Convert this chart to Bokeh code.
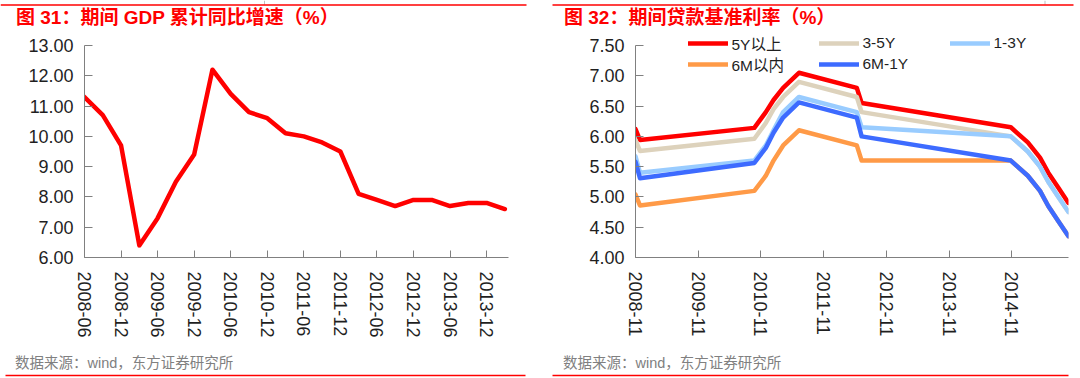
import pandas as pd
from bokeh.plotting import figure
from bokeh.models import (Range1d, FixedTicker, NumeralTickFormatter, DatetimeTickFormatter,
                          Legend, LegendItem, Label)
from bokeh.layouts import row, column
from bokeh.embed import file_html
from bokeh.resources import INLINE

# ---------------- data: chart 31 ----------------
quarters = ["2008-06", "2008-09", "2008-12", "2009-03", "2009-06", "2009-09", "2009-12",
            "2010-03", "2010-06", "2010-09", "2010-12", "2011-03", "2011-06", "2011-09",
            "2011-12", "2012-03", "2012-06", "2012-09", "2012-12", "2013-03", "2013-06",
            "2013-09", "2013-12", "2014-03"]
gdp_yoy = [11.3, 10.7, 9.7, 6.4, 7.3, 8.5, 9.4, 12.2, 11.4, 10.8, 10.6, 10.1, 10.0, 9.8,
           9.5, 8.1, 7.9, 7.7, 7.9, 7.9, 7.7, 7.8, 7.8, 7.6]
gdp_yticks = [6, 7, 8, 9, 10, 11, 12, 13]

# ---------------- data: chart 32 ----------------
rate_dates = ["2008-11-27", "2008-12-23", "2010-10-20", "2010-12-26", "2011-02-09",
              "2011-04-06", "2011-07-07", "2012-06-08", "2012-07-06", "2014-11-22",
              "2015-03-01", "2015-05-11", "2015-06-28", "2015-08-26", "2015-10-24"]
rate_5y_plus = [6.12, 5.94, 6.14, 6.40, 6.60, 6.80, 7.05, 6.80, 6.55, 6.15, 5.90, 5.65, 5.40, 5.15, 4.90]
rate_3_5y = [5.94, 5.76, 5.96, 6.22, 6.45, 6.65, 6.90, 6.65, 6.40, 6.00, 5.75, 5.50, 5.25, 5.00, 4.75]
rate_1_3y = [5.67, 5.40, 5.60, 5.85, 6.10, 6.40, 6.65, 6.40, 6.15, 6.00, 5.75, 5.50, 5.25, 5.00, 4.75]
rate_6m = [5.04, 4.86, 5.10, 5.35, 5.60, 5.85, 6.10, 5.85, 5.60, 5.60, 5.35, 5.10, 4.85, 4.60, 4.35]
rate_6m_1y = [5.58, 5.31, 5.56, 5.81, 6.06, 6.31, 6.56, 6.31, 6.00, 5.60, 5.35, 5.10, 4.85, 4.60, 4.35]
rate_names = ["5Y以上", "3-5Y", "1-3Y", "6M以内", "6M-1Y"]
rate_tick_dates = ["2008-11-27", "2009-11-27", "2010-11-27", "2011-11-27",
                   "2012-11-27", "2013-11-27", "2014-11-27"]
rate_yticks = [4.0, 4.5, 5.0, 5.5, 6.0, 6.5, 7.0, 7.5]

title_31 = "图 31：期间  GDP 累计同比增速（%）"
title_32 = "图 32：期间贷款基准利率（%）"
source_text = "数据来源：wind，东方证券研究所"

FONT = "Liberation Sans, Noto Sans CJK SC"
RED = "#FF0000"
AXIS = "#808080"
LABEL = "#1f1f1f"
GREY = "#808080"

HEAD_H = 30      # header strip height (red rule + title)
FOOT_H = 30      # footer strip height (source + red rule)
MAIN_H = 318     # chart figure height
COL_W = 540


def strip(width, height, rule_x0, rule_x1, rule_y, text, text_x, text_y, size, color, bold,
          mark_x=None):
    s = figure(width=width, height=height, output_backend="svg", toolbar_location=None,
               x_range=Range1d(0, width), y_range=Range1d(height, 0),
               x_axis_location=None, y_axis_location=None,
               min_border_left=0, min_border_right=0, min_border_top=0, min_border_bottom=0)
    s.frame_align = False
    s.outline_line_color = None
    s.grid.visible = False
    s.background_fill_color = "white"
    s.border_fill_color = "white"
    if mark_x is not None:
        s.segment(x0=[mark_x], y0=[0], x1=[mark_x], y1=[4], line_color="#bfbfbf", line_width=1)
    s.segment(x0=[rule_x0], y0=[rule_y], x1=[rule_x1], y1=[rule_y], line_color=RED, line_width=1.6)
    s.add_layout(Label(x=text_x, y=text_y, text=text, text_font=FONT, text_font_size=size,
                       text_font_style="bold" if bold else "normal", text_color=color,
                       text_baseline="middle", text_align="left"))
    return s


def style(p, xtick_in=7, ytick_in=8):
    p.frame_align = False
    p.xgrid.visible = False
    p.ygrid.visible = False
    p.outline_line_color = None
    p.background_fill_color = "white"
    p.border_fill_color = "white"
    for ax in (p.xaxis[0], p.yaxis[0]):
        ax.axis_line_color = AXIS
        ax.axis_line_width = 1
        ax.major_tick_line_color = AXIS
        ax.minor_tick_line_color = None
        ax.major_tick_out = 0
        ax.major_label_text_font = FONT
        ax.major_label_text_font_size = "18px"
        ax.major_label_text_color = LABEL
    p.xaxis[0].major_tick_in = xtick_in
    p.yaxis[0].major_tick_in = ytick_in
    p.xaxis[0].major_label_orientation = "vertical"
    p.xaxis[0].major_label_standoff = 14
    p.yaxis[0].major_label_standoff = 11


# frame: top at page y=30, bottom at page y=257; top tick value sits at page y=45
FRAME_H = 227
TICK_SPAN = 212

# ---------------- figure 31 ----------------
y1_end = gdp_yticks[0] + (gdp_yticks[-1] - gdp_yticks[0]) * FRAME_H / TICK_SPAN
p1 = figure(width=COL_W, height=MAIN_H, output_backend="svg", toolbar_location=None,
            x_range=Range1d(0, 23.2), y_range=Range1d(gdp_yticks[0], y1_end),
            min_border_left=84, min_border_right=32, min_border_top=0, min_border_bottom=91)
style(p1)
xi = list(range(len(quarters)))
p1.line(x=xi, y=gdp_yoy, line_color=RED, line_width=4.5, line_join="round", line_cap="round")
tick_idx = list(range(0, len(quarters), 2))
p1.xaxis[0].ticker = FixedTicker(ticks=tick_idx)
p1.xaxis[0].major_label_overrides = {i: quarters[i] for i in tick_idx}
p1.yaxis[0].ticker = FixedTicker(ticks=gdp_yticks)
p1.yaxis[0].bounds = (gdp_yticks[0], gdp_yticks[-1])
p1.yaxis[0].formatter = NumeralTickFormatter(format="0.00")

# ---------------- figure 32 ----------------
dates = pd.to_datetime(rate_dates)
y2_end = rate_yticks[0] + (rate_yticks[-1] - rate_yticks[0]) * FRAME_H / TICK_SPAN
p2 = figure(width=COL_W, height=MAIN_H, output_backend="svg", toolbar_location=None,
            x_axis_type="datetime",
            x_range=Range1d(pd.Timestamp(rate_dates[0]), pd.Timestamp(rate_dates[-1])),
            y_range=Range1d(rate_yticks[0], y2_end),
            min_border_left=95, min_border_right=12, min_border_top=0, min_border_bottom=91)
style(p2)
colors = [RED, "#DDD2BC", "#99CCFF", "#FF9A47", "#3D6BFF"]
series = [rate_5y_plus, rate_3_5y, rate_1_3y, rate_6m, rate_6m_1y]
rends = []
for vals, c in zip(series, colors):
    r = p2.line(x=dates, y=vals, line_color=c, line_width=4.5, line_join="round", line_cap="round")
    rends.append(r)
p2.xaxis[0].ticker = FixedTicker(ticks=[pd.Timestamp(d).value / 1e6 for d in rate_tick_dates])
p2.xaxis[0].formatter = DatetimeTickFormatter(days="%Y-%m", months="%Y-%m", years="%Y-%m")
p2.yaxis[0].ticker = FixedTicker(ticks=rate_yticks)
p2.yaxis[0].bounds = (rate_yticks[0], rate_yticks[-1])
p2.yaxis[0].formatter = NumeralTickFormatter(format="0.00")


def make_legend(idx, vy):
    return Legend(items=[LegendItem(label=rate_names[i], renderers=[rends[i]]) for i in idx],
                  location=(52.5, vy), orientation="horizontal",
                  glyph_width=40, glyph_height=18, label_standoff=4, label_width=70,
                  label_height=20, spacing=17, padding=0, margin=0,
                  label_text_font=FONT, label_text_font_size="15.5px", label_text_color=LABEL,
                  border_line_color=None, background_fill_alpha=0)


p2.add_layout(make_legend([0, 1, 2], 203))
p2.add_layout(make_legend([3, 4], 182.5))

# ---------------- header / footer strips ----------------
head1 = strip(COL_W, HEAD_H, 0, 526, 4.5, title_31, 15.5, 17, "19px", RED, True, mark_x=264)
foot1 = strip(COL_W, FOOT_H, 5, 525, 27, source_text, 14.5, 14, "14.5px", GREY, False)
head2 = strip(COL_W, HEAD_H, 12, 533, 4.5, title_32, 23.5, 17, "19px", RED, True, mark_x=504.5)
foot2 = strip(COL_W, FOOT_H, 12, 528, 27, source_text, 22.5, 14, "14.5px", GREY, False)

layout = row(column(head1, p1, foot1), column(head2, p2, foot2))

open("out.html", "w").write(file_html(layout, INLINE))
